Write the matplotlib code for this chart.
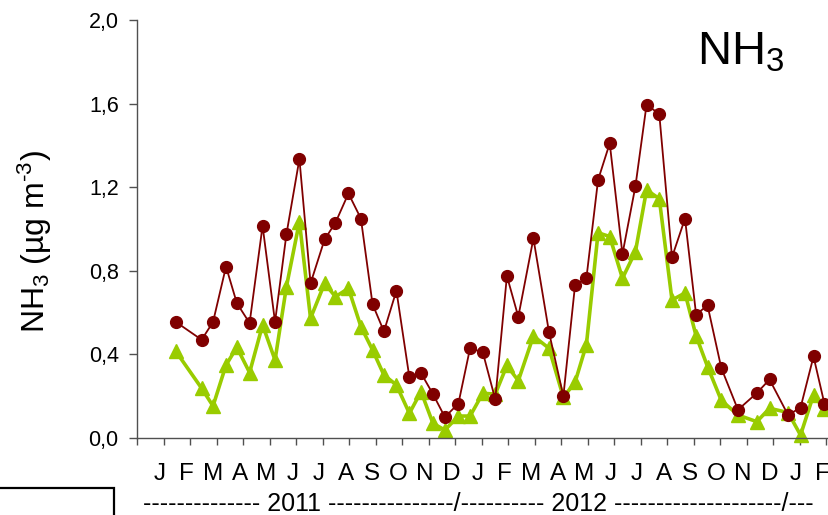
import matplotlib
matplotlib.use('Agg')
import matplotlib.pyplot as plt
from matplotlib.patches import Rectangle

plt.rcParams['font.family'] = 'Liberation Sans'
plt.rcParams['mathtext.fontset'] = 'custom'
plt.rcParams['mathtext.rm'] = 'Liberation Sans'
plt.rcParams['mathtext.it'] = 'Liberation Sans:italic'

# sampling dates, months since 1 Jan 2011
sample_month = [1.45, 2.42, 2.85, 3.34, 3.75, 4.23, 4.72, 5.19, 5.62, 6.11,
                6.53, 7.06, 7.47, 7.96, 8.43, 8.87, 9.30, 9.77, 10.26, 10.70,
                11.15, 11.60, 12.11, 12.55, 13.03, 13.50, 13.94, 14.37, 14.94, 15.53,
                16.07, 16.51, 16.94, 17.38, 17.82, 18.30, 18.79, 19.21, 19.69, 20.17,
                20.66, 21.08, 21.51, 22.03, 22.66, 23.37, 23.85, 24.55, 25.02, 25.51,
                25.92]

# NH3 concentrations (ug m-3), two sites
nh3_red = [0.555, 0.47, 0.555, 0.82, 0.645, 0.55, 1.015, 0.555, 0.975, 1.335,
           0.74, 0.95, 1.03, 1.17, 1.05, 0.64, 0.51, 0.705, 0.29, 0.31,
           0.21, 0.10, 0.165, 0.43, 0.41, 0.185, 0.775, 0.58, 0.955, 0.505,
           0.20, 0.73, 0.765, 1.235, 1.41, 0.88, 1.205, 1.595, 1.55, 0.865,
           1.05, 0.59, 0.635, 0.335, 0.135, 0.215, 0.28, 0.11, 0.145, 0.39,
           0.165]
nh3_green = [0.414, 0.238, 0.153, 0.349, 0.434, 0.313, 0.541, 0.373, 0.724, 1.035,
             0.573, 0.740, 0.676, 0.716, 0.533, 0.421, 0.301, 0.254, 0.118, 0.222,
             0.070, 0.038, 0.105, 0.105, 0.214, 0.21, 0.347, 0.274, 0.488, 0.429,
             0.195, 0.266, 0.447, 0.982, 0.964, 0.764, 0.892, 1.187, 1.145, 0.66,
             0.694, 0.488, 0.342, 0.18, 0.11, 0.078, 0.142, 0.122, 0.014, 0.206,
             0.138]

month_letters = list('JFMAMJJASONDJFMAMJJASONDJF')
yticks = [0.0, 0.4, 0.8, 1.2, 1.6, 2.0]
ytick_labels = ['0,0', '0,4', '0,8', '1,2', '1,6', '2,0']
year_line = '-' * 14 + ' 2011 ' + '-' * 15 + '/' + '-' * 10 + ' 2012 ' + '-' * 20 + '/---'

W, H = 829, 515
fig = plt.figure(figsize=(W / 100, H / 100), dpi=100)
ax = fig.add_axes([137.5 / W, 77 / H, 702.25 / W, 418 / H])

ax.plot(sample_month, nh3_green, color='#99cc00', lw=2.6, marker='^', ms=9.5,
        mec='#99cc00', zorder=2, clip_on=False)
ax.plot(sample_month, nh3_red, color='#800000', lw=1.3, marker='o', ms=8.5,
        mec='#800000', zorder=3, clip_on=False)

ax.set_xlim(0, 26.5)
ax.set_ylim(0, 2.0)

for side in ['top', 'right']:
    ax.spines[side].set_visible(False)
for side in ['left', 'bottom']:
    ax.spines[side].set_color('#505050')
    ax.spines[side].set_linewidth(1.0)

ax.set_yticks(yticks)
ax.set_yticklabels(ytick_labels)
ax.tick_params(axis='y', direction='out', length=5.5, width=1, color='#505050',
               labelsize=15.5, pad=8)

ax.set_xticks(range(0, 27))
ax.set_xticklabels([])
ax.tick_params(axis='x', which='major', direction='out', length=5, width=1,
               color='#505050')
ax.set_xticks([k + 0.85 for k in range(len(month_letters))], minor=True)
ax.set_xticklabels(month_letters, minor=True)
ax.tick_params(axis='x', which='minor', length=0, labelsize=17.5, pad=18)

fig.text(35 / W, 1 - 242 / H, r'NH$_3$ (µg m$^{\text{-}3}$)', rotation=90,
         ha='center', va='center', fontsize=23)
fig.text(697 / W, 1 - 64 / H, r'NH$_3$', ha='left', va='baseline', fontsize=34)
fig.text(143 / W, 1 - 504 / H, year_line, ha='left', va='center', fontsize=18)

# frame of the legend box below the axis
fig.add_artist(Rectangle((-0.02, -0.02), 114 / W + 0.02, 27 / H + 0.02,
                         transform=fig.transFigure, fill=False, lw=1.6,
                         ec='black'))

fig.savefig('out.png', dpi=100)
